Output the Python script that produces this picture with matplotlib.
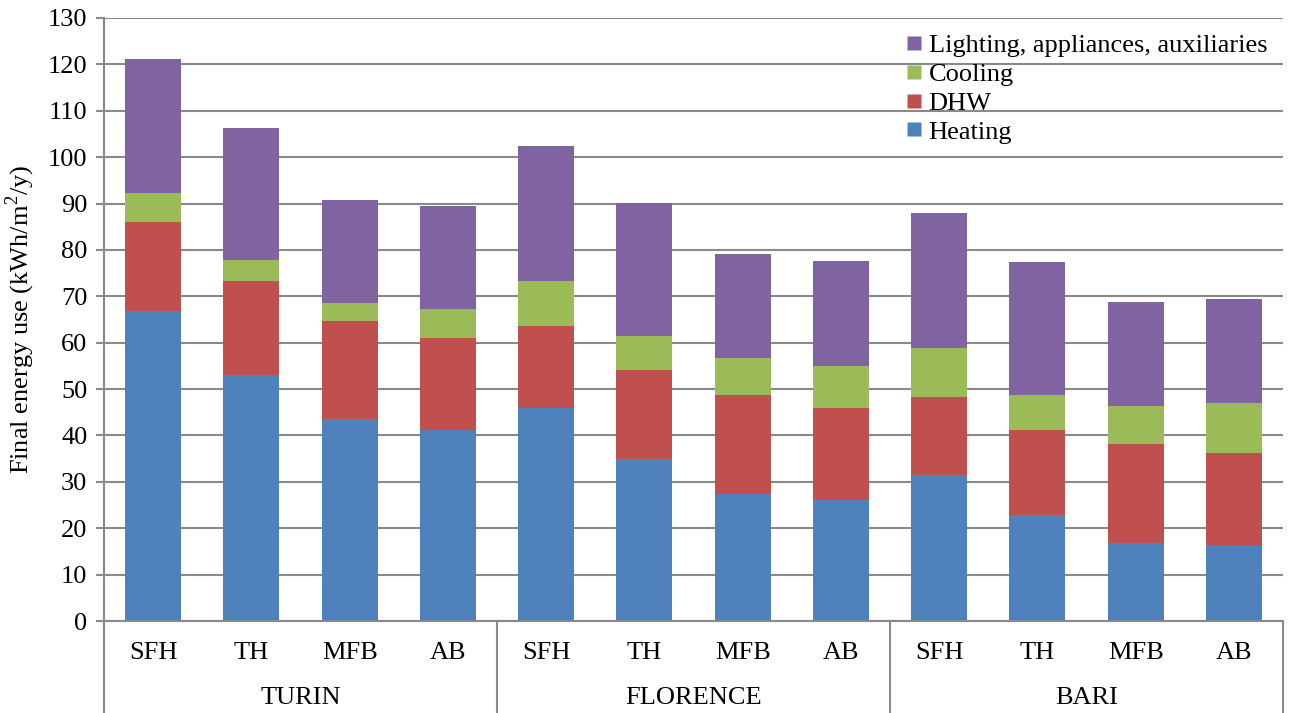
import numpy as np
import matplotlib.pyplot as plt
from matplotlib.lines import Line2D
import matplotlib.transforms as mtransforms

plt.rcParams['font.family'] = ['Liberation Serif', 'DejaVu Serif']

# Data (kWh/m2/y)
cities = ['TURIN', 'FLORENCE', 'BARI']
types = ['SFH', 'TH', 'MFB', 'AB']
heating = [66.8, 53.0, 43.6, 41.2, 45.9, 34.9, 27.4, 26.1, 31.5, 22.9, 16.8, 16.4]
dhw = [19.2, 20.3, 21.1, 19.8, 17.7, 19.2, 21.3, 19.8, 16.8, 18.3, 21.4, 19.8]
cooling = [6.3, 4.5, 3.9, 6.3, 9.7, 7.3, 8.0, 9.1, 10.6, 7.5, 8.2, 10.8]
lighting = [28.9, 28.5, 22.2, 22.2, 29.1, 28.7, 22.4, 22.6, 29.1, 28.7, 22.4, 22.4]

series = [('Heating', heating, '#4F81BD'),
          ('DHW', dhw, '#C0504D'),
          ('Cooling', cooling, '#9BBB59'),
          ('Lighting, appliances, auxiliaries', lighting, '#8064A2')]

W, H = 1291, 713
fig = plt.figure(figsize=(W / 100, H / 100), dpi=100)
ax = fig.add_axes([104 / W, (H - 621) / H, 1179 / W, 603 / H])

x = np.arange(len(cities) * len(types))
bottom = np.zeros(len(x))
handles = []
for name, vals, col in series:
    ax.bar(x, vals, 0.57, bottom=bottom, color=col, edgecolor='none', zorder=3)
    bottom += np.array(vals)
    handles.append(Line2D([], [], marker='s', linestyle='none', markersize=10.5,
                          markerfacecolor=col, markeredgecolor='none', label=name))

ax.set_xlim(-0.5, len(x) - 0.5)
ax.set_ylim(0, 130)
ax.set_yticks(np.arange(0, 131, 10))
ax.yaxis.grid(True, color='#898989', linewidth=1.5, zorder=0)
ax.set_axisbelow(True)

for s in ['top', 'right', 'bottom']:
    ax.spines[s].set_visible(False)
ax.spines['left'].set_color('#898989')
ax.spines['left'].set_linewidth(1.5)
ax.tick_params(axis='y', colors='#898989', length=6, width=1.5, labelsize=19,
               labelcolor='black', pad=6)

# category labels (two levels)
ax.set_xticks([])
trans = mtransforms.blended_transform_factory(ax.transData, ax.transAxes)
for i in x:
    ax.text(i, -32 / 603, types[i % len(types)], transform=trans,
            ha='center', va='center', fontsize=19)
for g, city in enumerate(cities):
    ax.text(g * len(types) + 1.5, -77 / 603, city, transform=trans,
            ha='center', va='center', fontsize=19)

# bottom axis line and group separators
ax.add_line(Line2D([0, 1], [0, 0], transform=ax.transAxes, color='#898989',
                   linewidth=1.5, clip_on=False, zorder=4))
for b in [-0.5, 3.5, 7.5, 11.5]:
    ax.add_line(Line2D([b, b], [0, -100 / 603], transform=trans, color='#898989',
                       linewidth=1.5, clip_on=False))

ax.set_ylabel(r'Final energy use (kWh/m$^{\mathregular{2}}$/y)', fontsize=19, labelpad=8)

ax.legend(handles=handles[::-1], loc='upper right', bbox_to_anchor=(1.0, 1.0),
          frameon=False, fontsize=19, handlelength=0.6, handletextpad=0.25,
          labelspacing=0.2, borderaxespad=0.2)

fig.savefig('out.png', dpi=100)
